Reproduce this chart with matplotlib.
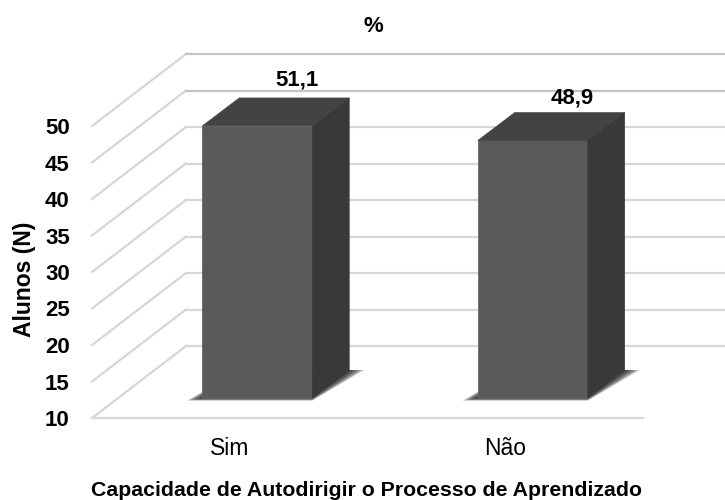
import matplotlib
matplotlib.use('Agg')
import matplotlib.pyplot as plt
from matplotlib.patches import Polygon

plt.rcParams['font.family'] = ['Liberation Sans', 'DejaVu Sans']

categories = ['Sim', 'Não']
percentuais = [51.1, 48.9]
rotulos = ['51,1', '48,9']
y_ticks = [10, 15, 20, 25, 30, 35, 40, 45, 50]

W, H = 725, 500
# caixa dos eixos em pixels
left, right, top, bottom = 92, 725, 54, 418
cat_px = 275.5          # distancia entre categorias
grid_px = 7.3           # pixels por unidade na parede
bar_px = 6.62           # pixels por unidade nas barras
depth_x, depth_y = 94, 72
rotulo_dy = [18, 14]    # folga dos rotulos acima de cada barra

fig = plt.figure(figsize=(W / 100, H / 100), dpi=100, facecolor='white')
ax = fig.add_axes([left / W, 1 - bottom / H, (right - left) / W, (bottom - top) / H])
ax.set_xlim(-0.5, -0.5 + (right - left) / cat_px)
ax.set_ylim(10, 10 + (bottom - top) / grid_px)
for s in ax.spines.values():
    s.set_visible(False)

dx = depth_x / cat_px
dy = depth_y / grid_px
x0, x1 = -0.5, 1.5
xmax = ax.get_xlim()[1]

# parede de fundo e chao
for v in y_ticks:
    cor = '#c4c4c4' if v >= 45 else '#d6d6d6'
    ax.plot([x0, x0 + dx], [v, v + dy], color='#d6d6d6', lw=1.6, clip_on=False, zorder=1)
    ax.plot([x0 + dx, xmax], [v + dy, v + dy], color=cor, lw=1.6, clip_on=False, zorder=1)
ax.plot([x0, x1], [10, 10], color='#d9d9d9', lw=1.6, clip_on=False, zorder=1)

ax.set_xticks(range(len(categories)))
ax.set_xticklabels(categories, fontsize=16.5)
ax.set_yticks(y_ticks)
ax.set_yticklabels([str(v) for v in y_ticks], fontsize=16, fontweight='bold')
ax.tick_params(axis='both', length=0)
ax.tick_params(axis='x', pad=14)
ax.tick_params(axis='y', pad=16)

# barras com escala propria
bx = ax.twinx()
bx.set_ylim(10 - 20 / bar_px, 10 - 20 / bar_px + (bottom - top) / bar_px)
bx.set_yticks([])
for s in bx.spines.values():
    s.set_visible(False)

bar_w = 110 / cat_px
front = 27.5 / cat_px
prof_x = 37 / cat_px
prof_y = 28 / bar_px

for i, v in enumerate(percentuais):
    xa = i + front - bar_w / 2
    xb = xa + bar_w

    # sombra no chao, em camadas para ficar suave
    for k in range(8):
        g = (8 - k) * 1.9 / cat_px
        gy = (8 - k) * 0.05
        sombra = [(xa - g, 10 - gy), (xb, 10 - gy),
                  (xb + prof_x + g, 10 + prof_y), (xa + prof_x, 10 + prof_y)]
        bx.add_patch(Polygon(sombra, closed=True, fc='#202020', ec='none', alpha=0.2, zorder=2))

    # frente, topo e lateral
    bx.add_patch(Polygon([(xa, 10), (xb, 10), (xb, v), (xa, v)], closed=True,
                         fc='#5a5a5a', ec='#666666', lw=0.6, zorder=4))
    bx.add_patch(Polygon([(xa, v), (xb, v), (xb + prof_x, v + prof_y), (xa + prof_x, v + prof_y)],
                         closed=True, fc='#434343', ec='#434343', lw=0.4, zorder=4))
    bx.add_patch(Polygon([(xb, 10), (xb + prof_x, 10 + prof_y), (xb + prof_x, v + prof_y), (xb, v)],
                         closed=True, fc='#393939', ec='#393939', lw=0.4, zorder=4))
    bx.text(xa + bar_w / 2 + 40 / cat_px, v + prof_y + rotulo_dy[i] / bar_px, rotulos[i],
            ha='center', va='center', fontsize=16, fontweight='bold', color='black', zorder=5)

fig.text(373 / W, 1 - 26 / H, '%', ha='center', va='center', fontsize=16, fontweight='bold')
fig.text(25 / W, 1 - 279 / H, 'Alunos (N)', ha='center', va='center', rotation=90,
         fontsize=16.5, fontweight='bold')
fig.text(366.5 / W, 1 - 491 / H, 'Capacidade de Autodirigir o Processo de Aprendizado',
         ha='center', va='center', fontsize=15.3, fontweight='bold')

fig.savefig('out.png', dpi=100)
